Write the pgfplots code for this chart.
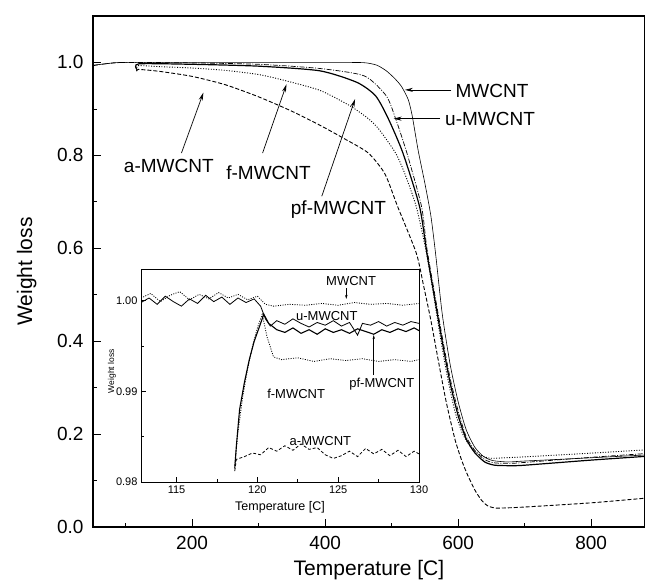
\documentclass[border=0pt]{standalone}
\usepackage{fontspec}
\setmainfont{Liberation Sans}
\usepackage{pgfplots}
\pgfplotsset{compat=1.18}
\usetikzlibrary{arrows.meta}

\begin{document}
\begin{tikzpicture}
\path[use as bounding box] (-93pt,-61pt) rectangle (552pt,527pt);

% main axis
\begin{axis}[
    at={(0pt,0pt)}, anchor=south west,
    scale only axis, width=552pt, height=511pt,
    xmin=51, xmax=881, ymin=0, ymax=1.1,
    xtick={200,400,600,800}, minor xtick={100,300,500,700},
    ytick={0,0.2,0.4,0.6,0.8,1.0}, minor ytick={0.1,0.3,0.5,0.7,0.9},
    tick align=inside, xtick pos=bottom, ytick pos=left,
    major tick length=8pt, minor tick length=4pt,
    axis line style={line width=1.1pt},
    tick style={line width=0.8pt, black},
    /pgf/number format/assume math mode=true,
    ticklabel style={font=\fontsize{19}{22}\selectfont},
    xticklabel style={yshift=-6pt},
    yticklabel style={xshift=-6pt, /pgf/number format/.cd, fixed, fixed zerofill, precision=1},
    xlabel={Temperature [C]}, ylabel={Weight loss},
    label style={font=\fontsize{21}{24}\selectfont},
    xlabel style={at={(axis description cs:0.5,-0.085)}, anchor=center},
    ylabel style={at={(axis description cs:-0.12,0.5)}, anchor=center},
    every axis plot/.append style={black, smooth, tension=0.4},
]
    % MWCNT
    \addplot[line width=0.6pt] coordinates {
        (51,0.994) (75,0.998) (100,1.0) (300,1.0) (440,1.0) (462,0.999)
        (478,0.994) (492,0.982) (505,0.965) (515,0.948) (525,0.92) (531,0.885)
        (540,0.81) (550,0.74) (559,0.67) (566,0.59) (576,0.46) (588,0.35)
        (600,0.27) (612,0.21) (625,0.172) (638,0.152) (652,0.143) (675,0.14)
        (700,0.142) (800,0.149) (881,0.155)
    };
    % u-MWCNT
    \addplot[line width=0.7pt, dash pattern=on 5pt off 1.5pt on 1pt off 1.5pt] coordinates {
        (51,0.993) (70,0.997) (100,1.0) (200,0.999) (300,0.996) (392,0.987)
        (459,0.971) (492,0.928) (506,0.879) (523,0.805) (545,0.69) (553,0.60)
        (565,0.50) (576,0.41) (588,0.32) (600,0.25) (612,0.195) (625,0.165)
        (640,0.145) (655,0.138) (680,0.137) (700,0.139) (800,0.15) (881,0.158)
    };
    % pf-MWCNT
    \addplot[line width=1.2pt] coordinates {
        (117,0.985) (120,0.997) (200,0.996) (300,0.992) (392,0.982) (448,0.957)
        (476,0.928) (495,0.879) (517,0.805) (542,0.69) (553,0.59) (565,0.49)
        (576,0.40) (588,0.31) (600,0.24) (612,0.19) (625,0.16) (640,0.14)
        (655,0.133) (680,0.132) (700,0.133) (800,0.144) (881,0.152)
    };
    % f-MWCNT
    \addplot[line width=0.9pt, dash pattern=on 1pt off 1.6pt] coordinates {
        (117,0.983) (119,0.993) (150,0.991) (200,0.988) (250,0.983) (300,0.974)
        (337,0.962) (392,0.94) (437,0.907) (465,0.879) (481,0.856) (506,0.805)
        (520,0.76) (537,0.69) (551,0.60) (562,0.51) (572,0.42) (583,0.33)
        (595,0.25) (607,0.20) (620,0.17) (633,0.155) (648,0.148) (670,0.149)
        (700,0.151) (800,0.159) (881,0.166)
    };
    % a-MWCNT
    \addplot[line width=0.9pt, dash pattern=on 4pt off 2pt] coordinates {
        (117,0.981) (119,0.985) (150,0.981) (200,0.970) (250,0.952) (300,0.926)
        (350,0.895) (392,0.865) (430,0.835) (465,0.805) (490,0.76) (509,0.69)
        (537,0.59) (548,0.52) (559,0.445) (570,0.36) (582,0.27) (595,0.19)
        (605,0.145) (613,0.116) (625,0.08) (635,0.058) (644,0.046) (655,0.041)
        (670,0.041) (700,0.043) (800,0.052) (881,0.062)
    };

    \begin{scope}[font=\fontsize{19}{22}\selectfont]
        \node at (651,0.939) {MWCNT};
        \node at (648,0.879) {u-MWCNT};
        \node at (165,0.777) {a-MWCNT};
        \node at (315,0.762) {f-MWCNT};
        \node at (420,0.683) {pf-MWCNT};
    \end{scope}
    \begin{scope}[line width=0.7pt, -{Stealth[length=8pt,width=4pt]}]
        \draw (590,0.941) -- (520,0.941);
        \draw (573,0.879) -- (503,0.879);
        \draw (184,0.805) -- (217,0.935);
        \draw (306,0.805) -- (342,0.953);
        \draw (395,0.712) -- (445,0.921);
    \end{scope}
\end{axis}

% inset
\begin{axis}[
    at={(48pt,45pt)}, anchor=south west,
    scale only axis, width=278pt, height=213pt,
    xmin=112.8, xmax=130, ymin=0.98, ymax=1.0035,
    axis background/.style={fill=white},
    xtick={115,120,125,130}, minor xtick={117.5,122.5,127.5},
    ytick={0.98,0.99,1.00}, minor ytick={0.985,0.995},
    tick align=inside, xtick pos=bottom, ytick pos=left,
    major tick length=5pt, minor tick length=3pt,
    axis line style={line width=0.9pt},
    tick style={line width=0.7pt, black},
    /pgf/number format/assume math mode=true,
    ticklabel style={font=\fontsize{11}{13}\selectfont},
    yticklabel style={/pgf/number format/.cd, fixed, fixed zerofill, precision=2},
    xlabel={Temperature [C]}, ylabel={Weight loss},
    xlabel style={font=\fontsize{12.5}{15}\selectfont, at={(axis description cs:0.5,-0.12)}, anchor=center},
    ylabel style={font=\fontsize{8.5}{10}\selectfont, at={(axis description cs:-0.105,0.52)}, anchor=center},
    every axis plot/.append style={black},
]
    % MWCNT
    \addplot[line width=0.8pt, dash pattern=on 1pt off 1.4pt] coordinates {
        (112.8,1.0003) (113.4,1.0008) (114.0,0.9999) (114.6,1.0006) (115.2,1.0010)
        (115.8,1.0001) (116.4,1.0007) (117.0,1.0002) (117.6,1.0009) (118.2,1.0003)
        (118.8,1.0007) (119.4,1.0001) (120.0,1.0005) (120.5,0.9996) (121.0,0.9994)
        (122.0,0.9996) (123.0,0.9995) (124.0,0.9997) (125.0,0.9995) (126.0,0.9998)
        (127.0,0.9996) (128.0,0.9997) (129.0,0.9995) (130.0,0.9997)
    };
    % u-MWCNT
    \addplot[line width=0.8pt] coordinates {
        (112.8,0.9998) (113.3,1.0003) (113.8,0.9996) (114.3,1.0005) (114.8,0.9999)
        (115.3,0.9994) (115.8,1.0002) (116.3,0.9997) (116.8,1.0006) (117.3,0.9999)
        (117.8,1.0004) (118.3,0.9996) (118.8,1.0003) (119.3,0.9998) (119.8,1.0002)
        (120.2,0.9994) (120.5,0.9980) (120.8,0.9972) (121.2,0.9978) (121.7,0.9974)
        (122.2,0.9980) (122.7,0.9975) (123.2,0.9971) (123.7,0.9976) (124.2,0.9973)
        (124.7,0.9978) (125.2,0.9972) (125.7,0.9976) (126.2,0.9962) (126.5,0.9975)
        (127.0,0.9973) (127.5,0.9977) (128.0,0.9972) (128.5,0.9976) (129.0,0.9973)
        (129.5,0.9977) (130.0,0.9975)
    };
    % pf-MWCNT
    \addplot[line width=1.1pt] coordinates {
        (118.6,0.9815) (118.7,0.9840) (118.9,0.9880) (119.2,0.9910) (119.5,0.9935)
        (119.8,0.9955) (120.1,0.9970) (120.4,0.9985) (120.7,0.9975) (121.2,0.9968)
        (121.7,0.9965) (122.2,0.9970) (122.7,0.9964) (123.2,0.9968) (123.7,0.9963)
        (124.2,0.9969) (124.7,0.9965) (125.2,0.9968) (125.7,0.9964) (126.2,0.9969)
        (126.7,0.9966) (127.2,0.9963) (127.7,0.9968) (128.2,0.9965) (128.7,0.9969)
        (129.2,0.9966) (129.7,0.9970) (130.0,0.9967)
    };
    % f-MWCNT
    \addplot[line width=0.8pt, dash pattern=on 1pt off 1.4pt] coordinates {
        (118.6,0.9818) (118.8,0.9855) (119.1,0.9895) (119.4,0.9925) (119.7,0.9950)
        (120.0,0.9970) (120.3,0.9985) (120.6,0.9960) (121.0,0.9938) (121.5,0.9935)
        (122.5,0.9937) (123.5,0.9933) (124.5,0.9936) (125.5,0.9934) (126.5,0.9936)
        (127.5,0.9933) (128.5,0.9935) (129.5,0.9933) (130.0,0.9935)
    };
    % a-MWCNT
    \addplot[line width=0.8pt, dash pattern=on 3pt off 2pt] coordinates {
        (118.6,0.9812) (118.7,0.9825) (119.2,0.9828) (119.7,0.9832) (120.2,0.9830)
        (120.7,0.9838) (121.2,0.9834) (121.7,0.9840) (122.2,0.9835) (122.7,0.9842)
        (123.2,0.9836) (123.7,0.9838) (124.2,0.9830) (124.7,0.9826) (125.2,0.9829)
        (125.7,0.9834) (126.2,0.9828) (126.7,0.9837) (127.2,0.9831) (127.7,0.9836)
        (128.2,0.9829) (128.7,0.9835) (129.2,0.9828) (129.7,0.9834) (130.0,0.9831)
    };

    \begin{scope}[font=\fontsize{13}{15}\selectfont]
        \node at (125.8,1.0022) {MWCNT};
        \node at (124.3,0.9983) {u-MWCNT};
        \node at (127.7,0.9908) {pf-MWCNT};
        \node at (122.4,0.9897) {f-MWCNT};
        \node at (123.9,0.9845) {a-MWCNT};
    \end{scope}
    \begin{scope}[line width=0.6pt, -{Stealth[length=4pt,width=2.5pt]}]
        \draw (125.5,1.0014) -- (125.5,1.0002);
        \draw (127.2,0.9918) -- (127.2,0.9962);
    \end{scope}
\end{axis}
\end{tikzpicture}
\end{document}
